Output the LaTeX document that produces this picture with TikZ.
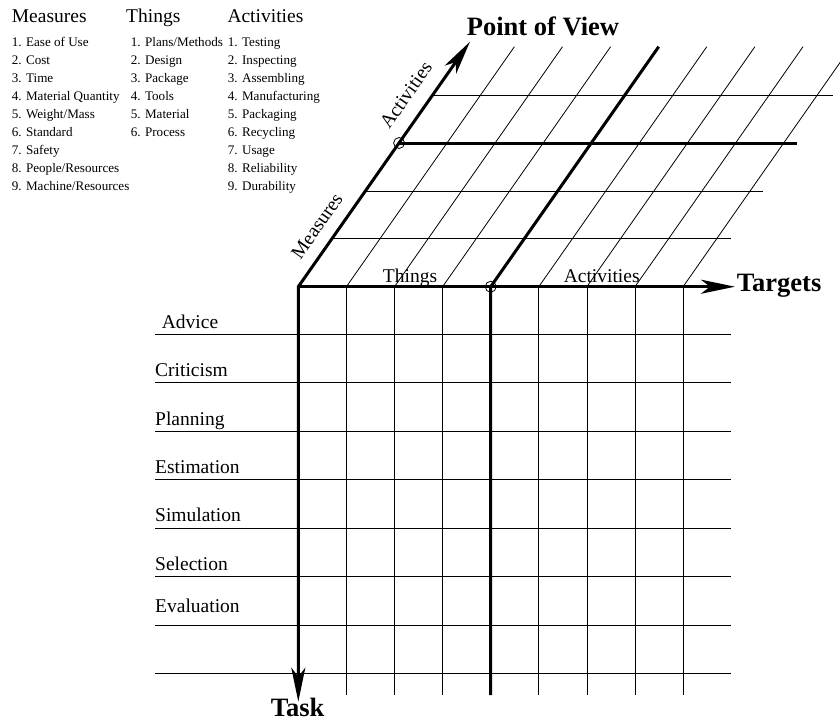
\documentclass[tikz,border=0pt]{standalone}
\usepackage{fontspec}
\setmainfont{Liberation Serif}
\usetikzlibrary{arrows.meta}
\begin{document}
\begin{tikzpicture}[x=1pt,y=-1pt,
  gridline/.style={line width=0.8pt},
  heavy/.style={line width=3pt},
  tipshape/.tip={Stealth[length=34pt,width=14pt,inset=9pt]},
  txt/.style={inner sep=0pt,anchor=base west,font=\fontsize{19.5}{22}\selectfont},
  listitem/.style={inner sep=0pt,anchor=base west,font=\fontsize{13.1}{15}\selectfont},
  axistitle/.style={inner sep=0pt,anchor=base west,font=\fontsize{26.5}{30}\selectfont\bfseries},
  ring/.style={draw,line width=0.8pt,circle,minimum size=11pt,inner sep=0pt}
]
\useasboundingbox (0,0) rectangle (840,721);

% ---- key points of the frame ----
\coordinate (O)  at (298.3,286.7);   % common origin
\coordinate (PV) at (470,41.7);      % tip of the point-of-view axis
\coordinate (TG) at (735,286.7);     % tip of the targets axis
\coordinate (TK) at (298.3,701.7);   % tip of the task axis

% ---- lower grid: tasks x targets ----
\foreach \j in {1,...,8}
  \draw[gridline] (155,285.5+48.5*\j) -- (731,285.5+48.5*\j);
\foreach \i in {1,2,3,5,6,7,8}
  \draw[gridline] (298.3+48.1*\i,286.7) -- (298.3+48.1*\i,695);

% ---- slanted grid: point of view x targets ----
\begin{scope}
  \clip (0,0) rectangle (840,721);
  \foreach \i in {1,2,3,5,6,7,8}
    \draw[gridline] (298.3+48.1*\i,286.7) -- ++(168,-240);
\end{scope}
\draw[gridline] (298.3+33.6*1,238.8) -- (731,238.8);
\draw[gridline] (298.3+33.6*2,190.9) -- (763,190.9);
\draw[gridline] (298.3+33.6*4,95.1)  -- (833,95.1);

% ---- heavy separators ----
\coordinate (C1) at (298.3+48.1*4,286.7);
\coordinate (C2) at (298.3+33.6*3,143);
\draw[heavy] (C1) -- ++(168,-240);
\draw[heavy] (C1) -- (490.7,695);
\draw[heavy] (C2) -- (797,143);

% ---- axes ----
\draw[heavy,{tipshape}-{tipshape}] (PV) -- (O) -- (TK);
\draw[heavy,-{tipshape}] (O) -- (TG);

\node[ring] (r1) at (C1) {};
\node[ring] (r2) at (C2) {};

% ---- axis titles ----
\node[axistitle] (pvt) at (466.7,35) {Point of View};
\node[axistitle] (tgt) at (736.7,291) {Targets};
\node[axistitle] (tkt) at (270.7,716) {Task};

% ---- axis section labels ----
\node[txt,anchor=base] (thg) at (410,282) {Things};
\node[txt,anchor=base] (act) at (601.7,282) {Activities};
\node[txt,anchor=center,rotate=55] (msr) at (317,226) {Measures};
\node[txt,anchor=center,rotate=55] (acv) at (406,95) {Activities};

% ---- task labels ----
\node[txt] (t1) at (161.7,328.3) {Advice};
\node[txt] (t2) at (155,376.5) {Criticism};
\node[txt] (t3) at (155,425) {Planning};
\node[txt] (t4) at (155,473) {Estimation};
\node[txt] (t5) at (155,521.5) {Simulation};
\node[txt] (t6) at (155,570) {Selection};
\node[txt] (t7) at (155,612) {Evaluation};

% ---- legend lists ----
\node[txt] (h1) at (11.7,22.7) {Measures};
\node[txt] (h2) at (126,22.7) {Things};
\node[txt] (h3) at (227.3,22.7) {Activities};
\foreach [count=\n] \s in {Ease of Use,Cost,Time,Material Quantity,Weight/Mass,Standard,Safety,People/Resources,Machine/Resources}
  \node[listitem] (m\n) at (11.7,28.7+18*\n) {\n. \s};
\foreach [count=\n] \s in {Plans/Methods,Design,Package,Tools,Material,Process}
  \node[listitem] (g\n) at (130.7,28.7+18*\n) {\n. \s};
\foreach [count=\n] \s in {Testing,Inspecting,Assembling,Manufacturing,Packaging,Recycling,Usage,Reliability,Durability}
  \node[listitem] (a\n) at (227.7,28.7+18*\n) {\n. \s};
\end{tikzpicture}
\end{document}
